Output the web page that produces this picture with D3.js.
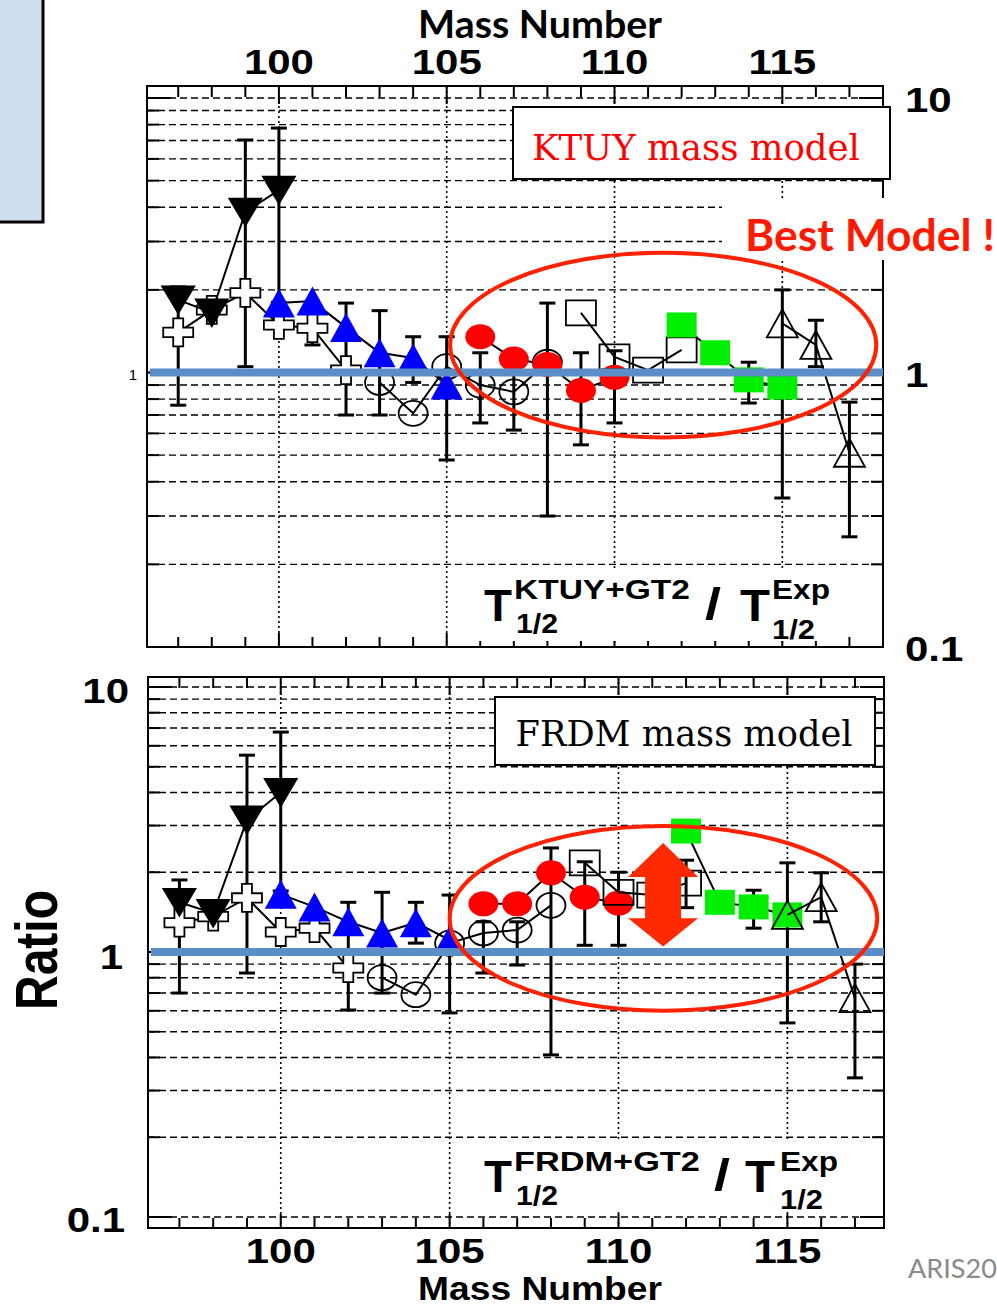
<!DOCTYPE html>
<html><head><meta charset="utf-8">
<script src="https://cdn.jsdelivr.net/npm/d3@7"></script>
<style>body{margin:0;background:#fff} svg{display:block}</style>
</head><body>
<svg id="fig" width="997" height="1307"></svg>
<script>
// ---- mass numbers of each isotope chain ----
const massDownTri    = [97, 98, 99, 100];
const massCross      = [97, 98, 99, 100, 101, 102];
const massBlueTri    = [100, 101, 102, 103, 104, 105];
const massOpenCircle = [103, 104, 105, 106, 107, 108];
const massRedCircle  = [106, 107, 108, 109, 110];
const massOpenSquare = [109, 110, 111, 112];
const massGreenSquare= [112, 113, 114, 115];
const massOpenTri    = [115, 116, 117];

// ---- T1/2(KTUY+GT2) / T1/2(Exp) ----
const ktuyDownTri = [1.84, 1.65, 3.84, 4.62];
const ktuyDownTriErr = [[0.76, 2.05], null, [1.05, 7.03], [1.8, 7.77]];
const ktuyCross = [1.40, 1.69, 1.95, 1.49, 1.45, 1.02];
const ktuyCrossErr = [null, null, null, null, [1.26, 1.45], null];
const ktuyBlueTri = [1.79, 1.82, 1.46, 1.18, 1.13, 0.90];
const ktuyBlueTriErr = [null, null, [0.70, 1.79], [0.70, 1.68], [0.92, 1.35], [0.48, 1.35]];
const ktuyOpenCircle = [0.92, 0.71, 1.05, 0.90, 0.85, 1.09];
const ktuyOpenCircleErr = [null, null, null, [0.655, 1.18], [0.617, 1.10], [0.30, 1.79]];
const ktuyRedCircle = [1.35, 1.12, 1.07, 0.86, 0.96];
const ktuyRedCircleErr = [null, null, null, [0.545, 1.18], [0.655, 1.20]];
const ktuyOpenSquare = [1.65, 1.14, 1.02, 1.21];
const ktuyOpenSquareErr = [null, null, null, null];
const ktuyGreenSquare = [1.49, 1.18, 0.94, 0.885];
const ktuyGreenSquareErr = [null, null, [0.774, 1.09], null];
const ktuyOpenTri = [1.51, 1.26, 0.51];
const ktuyOpenTriErr = [[0.349, 2.0], [1.05, 1.55], [0.252, 0.78]];

// ---- T1/2(FRDM+GT2) / T1/2(Exp) ----
const frdmDownTri = [1.54, 1.40, 3.15, 4.0];
const frdmDownTriErr = [[0.70, 1.87], null, [0.833, 5.53], [1.7, 6.76]];
const frdmCross = [1.29, 1.36, 1.60, 1.19, 1.23, 0.87];
const frdmCrossErr = [null, null, null, null, null, null];
const frdmBlueTri = [1.65, 1.48, 1.30, 1.18, 1.29, 1.11];
const frdmBlueTriErr = [null, null, [0.604, 1.54], [0.70, 1.68], [1.08, 1.54], [0.589, 1.64]];
const frdmOpenCircle = [0.80, 0.69, 1.08, 1.18, 1.21, 1.50];
const frdmOpenCircleErr = [null, null, null, [0.833, 1.3], [0.893, 1.3], null];
const frdmRedCircle = [1.52, 1.52, 1.99, 1.61, 1.53];
const frdmRedCircleErr = [null, null, [0.409, 2.47], [1.06, 2.19], [1.06, 2.0]];
const frdmOpenSquare = [2.17, 1.68, 1.64, 1.82];
const frdmOpenSquareErr = [null, null, null, [1.47, 2.22]];
const frdmGreenSquare = [2.86, 1.54, 1.48, 1.38];
const frdmGreenSquareErr = [null, null, [1.23, 1.71], null];
const frdmOpenTri = [1.38, 1.61, 0.67];
const frdmOpenTriErr = [[0.54, 2.17], [1.30, 1.99], [0.335, 0.9]];

// ---- axis labels ----
const massTickLabels = [100, 105, 110, 115];
const ratioTickLabels = [0.1, 1, 10];

// ---- annotation geometry in data units ----
const ktuyEllipse = {mass: [105.1, 117.8], ratio: [0.58, 2.73]};
const frdmEllipse = {mass: [105.0, 117.66], ratio: [0.60, 2.99]};
const frdmArrow = {mass: 111.32, tips: [1.05, 2.58], bases: [1.34, 1.92]};

const svg = d3.select('#fig');

// text helper: fit to a given width (or stretch factor) around the anchor point
function txt(parent, s, x, y, o) {
  const t = parent.append('text').text(s)
    .attr('font-family', o.family || '"Liberation Sans", Arial, sans-serif')
    .attr('font-size', o.size)
    .attr('font-weight', o.weight || 'normal')
    .attr('fill', o.fill || '#000')
    .attr('text-anchor', o.anchor || 'start');
  let sx = o.sx || 1;
  if (o.width) sx = o.width / t.node().getComputedTextLength();
  const sy = o.sy || 1;
  t.attr('transform', `translate(${x},${y})${o.rotate ? ` rotate(${o.rotate})` : ''} scale(${sx},${sy})`);
  return t;
}

// marker outlines, width w and height h centred on the point
const shapes = {
  downTri: (w, h) => `M${-w/2},${-h/2}L${w/2},${-h/2}L0,${h/2}Z`,
  upTri:   (w, h) => `M0,${-h/2}L${w/2},${h/2}L${-w/2},${h/2}Z`,
  square:  (w, h) => `M${-w/2},${-h/2}h${w}v${h}h${-w}Z`,
  circle:  (w, h) => `M${-w/2},0A${w/2},${h/2} 0 1,0 ${w/2},0A${w/2},${h/2} 0 1,0 ${-w/2},0Z`,
  cross:   (w, h) => { const a = w/6, b = h/6;
    return `M${-a},${-h/2}H${a}V${-b}H${w/2}V${b}H${a}V${h/2}H${-a}V${b}H${-w/2}V${-b}H${-a}Z`; }
};

const panels = [
  { key: 'ktuy', frameTop: 86, frameBottom: 647, left: 147, right: 883,
    xDomain: [96.07, 118], yRange: [647, 98],
    series: [
      {mass: massCross, v: ktuyCross, err: ktuyCrossErr, shape: 'cross', w: 30, h: 28, fill: '#fff', stroke: '#000'},
      {mass: massDownTri, v: ktuyDownTri, err: ktuyDownTriErr, shape: 'downTri', w: 32, h: 27, fill: '#000', stroke: '#000'},
      {mass: massOpenCircle, v: ktuyOpenCircle, err: ktuyOpenCircleErr, shape: 'circle', w: 29, h: 25, fill: 'none', stroke: '#000'},
      {mass: massBlueTri, v: ktuyBlueTri, err: ktuyBlueTriErr, shape: 'upTri', w: 32, h: 29, fill: '#0000ff', stroke: 'none'},
      {mass: massRedCircle, v: ktuyRedCircle, err: ktuyRedCircleErr, shape: 'circle', w: 30, h: 25, fill: '#ff0000', stroke: 'none'},
      {mass: massOpenSquare, v: ktuyOpenSquare, err: ktuyOpenSquareErr, shape: 'square', w: 30, h: 25, fill: 'none', stroke: '#000'},
      {mass: massGreenSquare, v: ktuyGreenSquare, err: ktuyGreenSquareErr, shape: 'square', w: 30, h: 25, fill: '#00ee00', stroke: 'none'},
      {mass: massOpenTri, v: ktuyOpenTri, err: ktuyOpenTriErr, shape: 'upTri', w: 31, h: 28, fill: 'none', stroke: '#000'}
    ]},
  { key: 'frdm', frameTop: 677, frameBottom: 1228, left: 148, right: 884,
    xDomain: [96.07, 117.86], yRange: [1217, 687],
    series: [
      {mass: massCross, v: frdmCross, err: frdmCrossErr, shape: 'cross', w: 30, h: 28, fill: '#fff', stroke: '#000'},
      {mass: massDownTri, v: frdmDownTri, err: frdmDownTriErr, shape: 'downTri', w: 32, h: 27, fill: '#000', stroke: '#000'},
      {mass: massOpenCircle, v: frdmOpenCircle, err: frdmOpenCircleErr, shape: 'circle', w: 29, h: 25, fill: 'none', stroke: '#000'},
      {mass: massBlueTri, v: frdmBlueTri, err: frdmBlueTriErr, shape: 'upTri', w: 32, h: 29, fill: '#0000ff', stroke: 'none'},
      {mass: massRedCircle, v: frdmRedCircle, err: frdmRedCircleErr, shape: 'circle', w: 30, h: 25, fill: '#ff0000', stroke: 'none'},
      {mass: massOpenSquare, v: frdmOpenSquare, err: frdmOpenSquareErr, shape: 'square', w: 30, h: 25, fill: 'none', stroke: '#000'},
      {mass: massGreenSquare, v: frdmGreenSquare, err: frdmGreenSquareErr, shape: 'square', w: 30, h: 25, fill: '#00ee00', stroke: 'none'},
      {mass: massOpenTri, v: frdmOpenTri, err: frdmOpenTriErr, shape: 'upTri', w: 31, h: 28, fill: 'none', stroke: '#000'}
    ]}
];

// light blue side panel at the top-left corner
svg.append('rect').attr('x', -4).attr('y', -4).attr('width', 47).attr('height', 226)
  .attr('fill', '#cfdff1').attr('stroke', '#000').attr('stroke-width', 3);

panels.forEach(p => {
  const x = d3.scaleLinear().domain(p.xDomain).range([p.left, p.right]);
  const y = d3.scaleLog().domain([0.1, 10]).range(p.yRange);
  p.x = x; p.y = y;
  const g = svg.append('g');

  // horizontal dashed grid at every log tick
  const yt = y.ticks();
  g.selectAll('line.hg').data(yt).join('line')
    .attr('x1', p.left).attr('x2', p.right)
    .attr('y1', d => y(d)).attr('y2', d => y(d))
    .attr('stroke', '#000').attr('stroke-width', 1.4).attr('stroke-dasharray', '7,4');
  // vertical dotted grid at labelled mass numbers
  g.selectAll('line.vg').data(massTickLabels).join('line')
    .attr('x1', d => x(d)).attr('x2', d => x(d))
    .attr('y1', p.frameTop).attr('y2', p.frameBottom)
    .attr('stroke', '#000').attr('stroke-width', 1.6).attr('stroke-dasharray', '2,3');

  // y ticks on both sides
  const isMajor = d => ratioTickLabels.includes(+d.toPrecision(3));
  g.selectAll('line.yl').data(yt).join('line')
    .attr('x1', p.left).attr('x2', d => p.left + (isMajor(d) ? 24 : 12))
    .attr('y1', d => y(d)).attr('y2', d => y(d))
    .attr('stroke', '#000').attr('stroke-width', 2);
  g.selectAll('line.yr').data(yt).join('line')
    .attr('x1', p.right).attr('x2', d => p.right - (isMajor(d) ? 24 : 12))
    .attr('y1', d => y(d)).attr('y2', d => y(d))
    .attr('stroke', '#000').attr('stroke-width', 2);

  // x ticks on top and bottom
  const xt = d3.range(Math.ceil(p.xDomain[0]), Math.floor(p.xDomain[1]) + 1);
  const xMajor = d => massTickLabels.includes(d);
  g.selectAll('line.xt').data(xt).join('line')
    .attr('x1', d => x(d)).attr('x2', d => x(d))
    .attr('y1', p.frameTop).attr('y2', d => p.frameTop + (xMajor(d) ? 18 : 11))
    .attr('stroke', '#000').attr('stroke-width', 2);
  g.selectAll('line.xb').data(xt).join('line')
    .attr('x1', d => x(d)).attr('x2', d => x(d))
    .attr('y1', p.frameBottom).attr('y2', d => p.frameBottom - (xMajor(d) ? 14 : 10))
    .attr('stroke', '#000').attr('stroke-width', 2);

  // frame
  g.append('rect').attr('x', p.left).attr('y', p.frameTop)
    .attr('width', p.right - p.left).attr('height', p.frameBottom - p.frameTop)
    .attr('fill', 'none').attr('stroke', '#000').attr('stroke-width', 2);

  // error bars
  const eg = svg.append('g');
  p.series.forEach(s => {
    s.err.forEach((e, i) => {
      if (!e) return;
      const cx = x(s.mass[i]);
      eg.append('line').attr('x1', cx).attr('x2', cx).attr('y1', y(e[0])).attr('y2', y(e[1]))
        .attr('stroke', '#000').attr('stroke-width', 3);
      e.forEach(b => eg.append('line').attr('x1', cx - 8).attr('x2', cx + 8)
        .attr('y1', y(b)).attr('y2', y(b)).attr('stroke', '#000').attr('stroke-width', 3));
    });
  });

  // connecting lines and markers
  p.series.forEach(s => {
    const pts = s.mass.map((m, i) => [x(m), y(s.v[i])]);
    svg.append('path').attr('d', d3.line()(pts))
      .attr('fill', 'none').attr('stroke', '#000').attr('stroke-width', 2);
    svg.append('g').selectAll('path').data(pts).join('path')
      .attr('transform', d => `translate(${d[0]},${d[1]})`)
      .attr('d', shapes[s.shape](s.w, s.h))
      .attr('fill', s.fill).attr('stroke', s.stroke).attr('stroke-width', 1.8);
  });
});

const [pk, pf] = panels;

// ---- axis numbers ----
const numFont = {size: 35, weight: 'bold', sx: 1.2, anchor: 'middle'};
massTickLabels.forEach(m => {
  txt(svg, String(m), pk.x(m), 74, numFont);
  txt(svg, String(m), pf.x(m), 1263, numFont);
});
// right-hand ratio labels of the upper panel
txt(svg, '10', 905, 112, {size: 35, weight: 'bold', sx: 1.2});
txt(svg, '1', 905, 387, {size: 35, weight: 'bold', sx: 1.2});
txt(svg, '0.1', 905, 661, {size: 35, weight: 'bold', sx: 1.2});
txt(svg, '1', 133, 380, {size: 15, anchor: 'middle'});
// left-hand ratio labels of the lower panel
txt(svg, '10', 129, 703, {size: 35, weight: 'bold', sx: 1.2, anchor: 'end'});
txt(svg, '1', 123, 969, {size: 35, weight: 'bold', sx: 1.2, anchor: 'end'});
txt(svg, '0.1', 125, 1232, {size: 35, weight: 'bold', sx: 1.2, anchor: 'end'});

// axis titles
const calibri = 'Lato, "Open Sans", sans-serif';
txt(svg, 'Mass Number', 540, 38, {family: calibri, size: 38, weight: 'bold', width: 244, anchor: 'middle'});
txt(svg, 'Mass Number', 540, 1300, {size: 33, weight: 'bold', width: 244, anchor: 'middle'});
txt(svg, 'Ratio', 57, 950, {size: 48, weight: 'bold', width: 120, sy: 1.22, anchor: 'middle', rotate: -90});
txt(svg, 'ARIS20', 908, 1278, {family: calibri, size: 27, fill: '#8a8a8a', width: 89});

// ---- ratio formulas ----
function formula(model, base, boxTop, boxBottom, pos) {
  svg.append('rect').attr('x', 476).attr('y', boxTop).attr('width', 372).attr('height', boxBottom - boxTop)
    .attr('fill', '#fff');
  const big = {size: 44, weight: 'bold'};
  const small = {size: 28, weight: 'bold'};
  txt(svg, 'T', 484, base, {...big, width: 28});
  txt(svg, model, 514, base + pos.sup, {...small, width: pos.supW});
  txt(svg, '1/2', 516, base + pos.sub1, {...small, width: 42});
  txt(svg, '/', pos.slash, base - 2, {...big, width: 16});
  txt(svg, 'T', pos.t2, base, {...big, width: 30});
  txt(svg, 'Exp', pos.exp, base + pos.sup, {...small, width: 58});
  txt(svg, '1/2', pos.exp, base + pos.sub2, {...small, width: 43});
}
formula('KTUY+GT2', 621, 570, 641, {sup: -22, sub1: 12, sub2: 18, supW: 176, slash: 705, t2: 740, exp: 772});
formula('FRDM+GT2', 1192, 1142, 1212, {sup: -21, sub1: 13, sub2: 17, supW: 186, slash: 714, t2: 745, exp: 780});

// ---- model boxes ----
const serif = '"DejaVu Serif", "Liberation Serif", serif';
svg.append('rect').attr('x', 513).attr('y', 107).attr('width', 377).attr('height', 72)
  .attr('fill', '#fff').attr('stroke', '#000').attr('stroke-width', 2);
txt(svg, 'KTUY mass model', 696, 160, {family: serif, size: 36, fill: '#ff0000', width: 328, anchor: 'middle'});
svg.append('rect').attr('x', 495).attr('y', 697).attr('width', 380).attr('height', 68)
  .attr('fill', '#fff').attr('stroke', '#000').attr('stroke-width', 2);
txt(svg, 'FRDM mass model', 684, 746, {family: serif, size: 36, fill: '#000', width: 337, anchor: 'middle'});

// "Best Model !" callout
svg.append('rect').attr('x', 722).attr('y', 198).attr('width', 280).attr('height', 62).attr('fill', '#fff');
txt(svg, 'Best Model !', 745, 251, {family: calibri, size: 44, weight: 'bold', fill: '#ff1a00', width: 250});

// ---- unity reference lines ----
panels.forEach(p => {
  svg.append('line').attr('x1', p.left + 3).attr('x2', p.right).attr('y1', p.y(1)).attr('y2', p.y(1))
    .attr('stroke', '#5b8dc8').attr('stroke-width', 8);
});

// ---- highlight ellipses ----
[[pk, ktuyEllipse], [pf, frdmEllipse]].forEach(([p, e]) => {
  const x0 = p.x(e.mass[0]), x1 = p.x(e.mass[1]);
  const y0 = p.y(e.ratio[1]), y1 = p.y(e.ratio[0]);
  svg.append('ellipse').attr('cx', (x0 + x1) / 2).attr('cy', (y0 + y1) / 2)
    .attr('rx', (x1 - x0) / 2).attr('ry', (y1 - y0) / 2)
    .attr('fill', 'none').attr('stroke', '#ff2200').attr('stroke-width', 4);
});

// ---- double arrow in the FRDM panel ----
{
  const cx = pf.x(frdmArrow.mass);
  const yTop = pf.y(frdmArrow.tips[1]), yBot = pf.y(frdmArrow.tips[0]);
  const bTop = pf.y(frdmArrow.bases[1]), bBot = pf.y(frdmArrow.bases[0]);
  const hw = 35, sw = 18;
  const pts = [[cx, yTop], [cx + hw, bTop], [cx + sw, bTop], [cx + sw, bBot], [cx + hw, bBot], [cx, yBot],
               [cx - hw, bBot], [cx - sw, bBot], [cx - sw, bTop], [cx - hw, bTop]];
  svg.append('path').attr('d', 'M' + pts.map(d => d.join(',')).join('L') + 'Z').attr('fill', '#ff2a00');
}
</script>
</body></html>
